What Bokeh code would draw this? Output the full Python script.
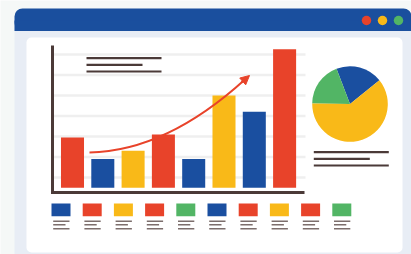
import math
from bokeh.plotting import figure
from bokeh.models import Range1d, Arrow, NormalHead
from bokeh.embed import file_html
from bokeh.resources import INLINE

# ---- data ----
bar_values = [24.5, 14, 18, 26, 14, 45, 37, 67.5]
bar_colors = ["#e8432a", "#1a4fa0", "#f9b918", "#e8432a", "#1a4fa0", "#f9b918", "#1a4fa0", "#e8432a"]
grid_values = [5, 15, 25, 35, 45, 55, 65]
pie_values = [20, 19, 61]
pie_colors = ["#1a4fa0", "#52b565", "#f9b918"]
legend_colors = ["#1a4fa0", "#e8432a", "#f9b918", "#e8432a", "#52b565",
                 "#1a4fa0", "#e8432a", "#f9b918", "#e8432a", "#52b565"]

RED, BLUE, YEL, GRN = "#e8432a", "#1a4fa0", "#f9b918", "#52b565"
DARK = "#4b3a38"

W, H = 411, 254
p = figure(width=W, height=H, output_backend="svg", toolbar_location=None,
           x_range=Range1d(0, W), y_range=Range1d(H, 0),
           min_border=0, background_fill_color="#f5f8f7", border_fill_color="#f5f8f7",
           outline_line_color=None)
p.axis.visible = False
p.grid.visible = False

# bar-chart ranges: index i -> px 72 + 30.3 i ; value v -> px 187.2 - 2.05 v
X0, DX = 72.0, 30.3
Y0, DY = 187.2, 2.05
p.extra_x_ranges = {"bx": Range1d((0 - X0) / DX, (W - X0) / DX)}
p.extra_y_ranges = {"by": Range1d((Y0 - H) / DY, (Y0 - 0) / DY)}

# ---- window frame ----
p.quad(left=[14], right=[420], top=[24], bottom=[262], fill_color="#e8edf5", line_color=None)
p.quad(left=[14], right=[411], top=[8], bottom=[30.5], fill_color="#1a4f9e", line_color=None,
       border_radius=8)
p.quad(left=[14], right=[411], top=[20], bottom=[30.5], fill_color="#1a4f9e", line_color=None)
p.quad(left=[26], right=[402], top=[37], bottom=[252], fill_color="white", line_color=None,
       border_radius=5)
p.scatter(x=[366, 382, 398], y=[20, 20, 20], size=9.5, fill_color=[RED, YEL, GRN], line_color=None)

# ---- gridlines ----
p.segment(x0=[52] * len(grid_values), x1=[305] * len(grid_values), y0=grid_values, y1=grid_values,
          y_range_name="by", line_color="#efefef", line_width=2.5)

# ---- bars ----
p.vbar(x=list(range(len(bar_values))), top=bar_values, bottom=0, width=0.76,
       fill_color=bar_colors, line_color=None, x_range_name="bx", y_range_name="by")

# ---- axes lines ----
p.segment(x0=[52, 50.5], y0=[45, 192], x1=[52, 304], y1=[193.5, 192], line_color=DARK, line_width=3)

# ---- title lines ----
p.segment(x0=[86, 86, 86], x1=[161, 142, 161], y0=[57.7, 64.3, 71], y1=[57.7, 64.3, 71],
          line_color=DARK, line_width=2.2)

# ---- trend arrow ----
p.quadratic(x0=[89], y0=[152], x1=[245], y1=[78.5], cx=[166], cy=[150.5],
            line_color=RED, line_width=2)
p.add_layout(Arrow(end=NormalHead(size=9, fill_color=RED, line_color=RED, line_width=1),
                   x_start=241, y_start=82, x_end=249, y_end=75,
                   line_color=RED, line_width=2))

# ---- pie ----
total = sum(pie_values)
start = math.radians(38.9)
angs = [start]
for v in pie_values:
    angs.append(angs[-1] + 2 * math.pi * v / total)
p.wedge(x=[349.5] * 3, y=[103.5] * 3, radius=37.8,
        start_angle=angs[:-1], end_angle=angs[1:],
        fill_color=pie_colors, line_color=None)
p.segment(x0=[313.3] * 3, x1=[388.3, 369.3, 388.3], y0=[151.7, 158.3, 165], y1=[151.7, 158.3, 165],
          line_color=DARK, line_width=2.2)

# ---- legend swatches ----
n = len(legend_colors)
cx = [60.5 + 31.2 * i for i in range(n)]
p.quad(left=[c - 9.5 for c in cx], right=[c + 9.5 for c in cx], top=[203] * n, bottom=[215.7] * n,
       fill_color=legend_colors, line_color=None)
for dy, ext in [(220.7, 8.5), (224.3, 4.5), (228.3, 8.5)]:
    p.segment(x0=[c - 7.8 for c in cx], x1=[c + ext for c in cx], y0=[dy] * n, y1=[dy] * n,
              line_color="#6e5e5c", line_width=1.6, line_alpha=0.9)

open("out.html", "w").write(file_html(p, INLINE))
